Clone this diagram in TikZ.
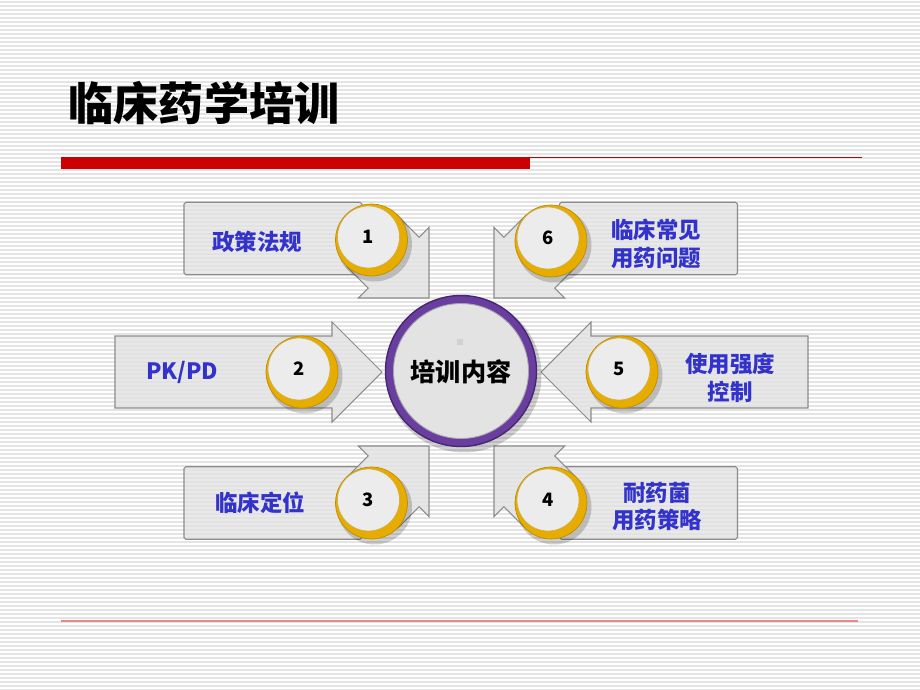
\documentclass[tikz,border=0pt]{standalone}
\usepackage{fontspec}
\newfontfamily\cjk{Noto Sans CJK SC}
\usepackage{xcolor}
\definecolor{stripe}{RGB}{228,228,228}
\definecolor{boxfill}{RGB}{226,226,226}
\definecolor{boxline}{RGB}{140,140,140}
\definecolor{gold}{RGB}{230,172,0}
\definecolor{golddark}{RGB}{190,140,0}
\definecolor{disc}{RGB}{236,236,236}
\definecolor{ring}{RGB}{106,62,160}
\definecolor{ringdark}{RGB}{70,40,110}
\definecolor{topicblue}{RGB}{51,51,204}
\definecolor{barred}{RGB}{204,0,0}
\definecolor{linered}{RGB}{226,140,140}
\tikzstyle{panel}=[rectangle, draw=boxline, fill=boxfill, fill opacity=.75, line width=.6pt, rounded corners=1pt, minimum width=3.56cm, minimum height=1.45cm]
\tikzstyle{arrowbody}=[draw=boxline, fill=boxfill, fill opacity=.8, line width=.6pt, line join=miter]
\tikzstyle{discshadow}=[circle, fill=black, fill opacity=.18, minimum size=1.5cm]
\tikzstyle{goldring}=[circle, fill=gold, draw=golddark, line width=.4pt, minimum size=1.44cm]
\tikzstyle{numdisc}=[circle, fill=disc, draw=golddark!70, line width=.4pt, minimum size=1.24cm, inner sep=0pt, font=\cjk\bfseries\fontsize{10.5}{12}\selectfont]
\tikzset{topic/.style={text=topicblue, align=center, font=\cjk\bfseries\fontsize{12.8}{15.8}\selectfont}}
% block arrow: tip x, tip y, angle, length
\newcommand{\blockarrow}[4]{%
  \draw[arrowbody, shift={(#1,#2)}, rotate=#3] (0,0) -- (-50,50) -- (-50,36) -- (-#4,36)
    -- (-#4,-36) -- (-50,-36) -- (-50,-50) -- cycle;}

\begin{document}
\begin{tikzpicture}[x=0.02cm, y=-0.02cm]
  \useasboundingbox (0,0) rectangle (920,690);
  \fill[white] (0,0) rectangle (920,690);
  \foreach \y in {2,6,...,690} \draw[stripe, line width=.7pt] (0,\y) -- (920,\y);

  %% Title
  \draw (204,103) node[font=\cjk\bfseries\fontsize{25.7}{30}\selectfont] (title) {临床药学培训};
  \fill[barred] (61,157) rectangle (530,169);
  \draw[barred, line width=.9pt] (530,157.5) -- (862,157.5);
  \draw[linered, line width=1.2pt] (61,621) -- (858,621);

  %% Boxes behind the corner arrows
  \draw (273,238.5) node[panel] (B1) {};
  \draw (648.5,238.5) node[panel] (B6) {};
  \draw (273,503) node[panel] (B3) {};
  \draw (648.5,503) node[panel] (B4) {};

  \blockarrow{429}{298}{-45}{80}
  \blockarrow{494}{298}{-135}{80}
  \blockarrow{429}{446}{45}{80}
  \blockarrow{494}{446}{135}{80}
  \blockarrow{382}{372}{0}{267}
  \blockarrow{541}{372}{180}{267}

  %% Numbered discs
  \draw (374.5,244) node[discshadow] (S1) {};
  \draw (371.5,240) node[goldring] (G1) {};
  \draw (368.5,237) node[numdisc] (N1) {1};

  \draw (554,245) node[discshadow] (S6) {};
  \draw (551,241) node[goldring] (G6) {};
  \draw (548,238) node[numdisc] (N6) {6};

  \draw (305,376) node[discshadow] (S2) {};
  \draw (302,372) node[goldring] (G2) {};
  \draw (299,369) node[numdisc] (N2) {2};

  \draw (625,376) node[discshadow] (S5) {};
  \draw (622,372) node[goldring] (G5) {};
  \draw (619,369) node[numdisc] (N5) {5};

  \draw (374.5,507) node[discshadow] (S3) {};
  \draw (371.5,503) node[goldring] (G3) {};
  \draw (368.5,500) node[numdisc] (N3) {3};

  \draw (554,507) node[discshadow] (S4) {};
  \draw (551,503) node[goldring] (G4) {};
  \draw (548,500) node[numdisc] (N4) {4};

  %% Topics
  \draw (257,242) node[topic] (T1) {政策法规};
  \draw (656,243.5) node[topic] (T6) {临床常见\\用药问题};
  \draw (182,372) node[topic] (T2) {PK/PD};
  \draw (730,377.5) node[topic] (T5) {使用强度\\控制};
  \draw (260,503) node[topic] (T3) {临床定位};
  \draw (657,506.5) node[topic] (T4) {耐药菌\\用药策略};

  %% Centre
  \draw (464,375) node[discshadow, minimum size=3.1cm] (CS) {};
  \draw (461,371) node[circle, fill=ring, draw=ringdark, line width=.8pt, minimum size=3.02cm] (C) {};
  \draw (461,371) node[circle, fill=disc!96!black, draw=gray!70, line width=.5pt, minimum size=2.7cm] (Cin) {};
  \fill[gray!35] (457,339) rectangle (463,345);
  \draw (461,372) node[font=\cjk\bfseries\fontsize{14.3}{17}\selectfont] (Ctext) {培训内容};
\end{tikzpicture}
\end{document}
